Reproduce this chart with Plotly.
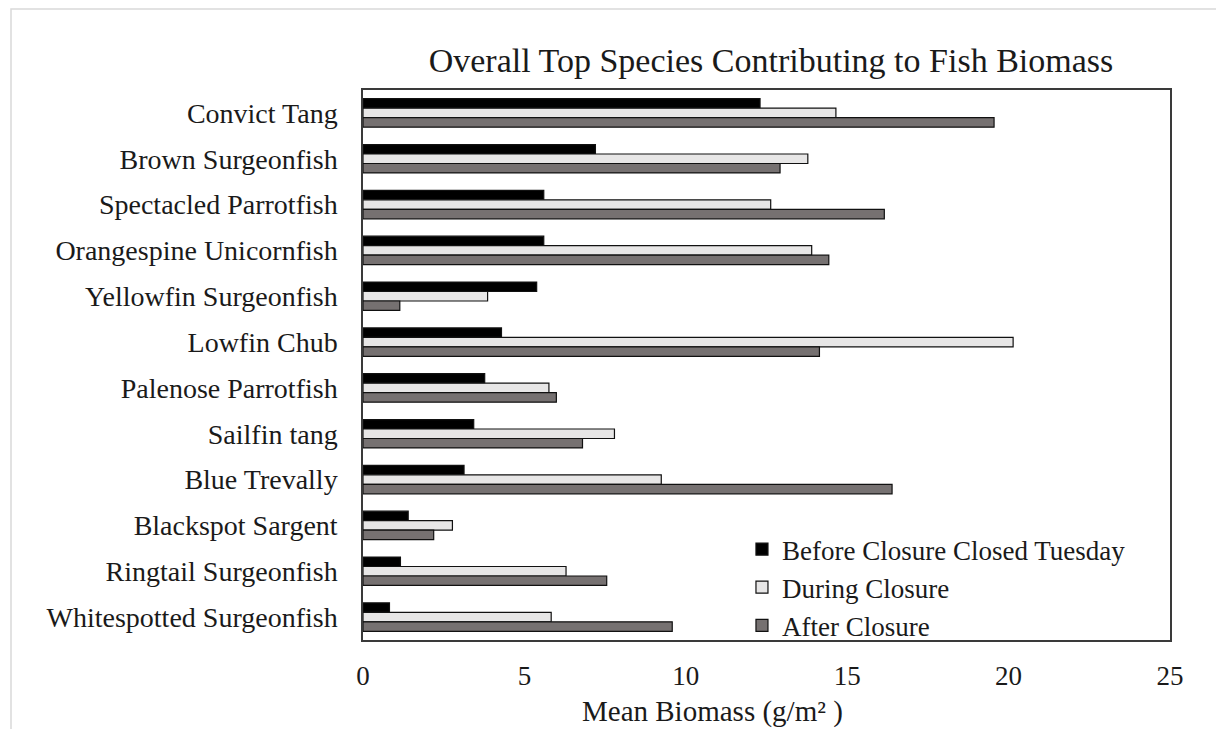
import plotly.graph_objects as go

species = ["Convict Tang", "Brown Surgeonfish", "Spectacled Parrotfish", "Orangespine Unicornfish",
           "Yellowfin Surgeonfish", "Lowfin Chub", "Palenose Parrotfish", "Sailfin tang",
           "Blue Trevally", "Blackspot Sargent", "Ringtail Surgeonfish", "Whitespotted Surgeonfish"]
before = [12.3, 7.2, 5.6, 5.6, 5.38, 4.29, 3.77, 3.43, 3.13, 1.4, 1.16, 0.82]
during = [14.65, 13.78, 12.63, 13.9, 3.86, 20.14, 5.76, 7.79, 9.24, 2.77, 6.29, 5.83]
after = [19.55, 12.92, 16.15, 14.43, 1.14, 14.14, 5.99, 6.8, 16.39, 2.19, 7.55, 9.58]

series_names = ["Before Closure Closed Tuesday", "During Closure", "After Closure"]
series_colors = ["#000000", "#E7E6E6", "#767171"]
x_ticks = [0, 5, 10, 15, 20, 25]

FONT = "Liberation Serif, Times New Roman, serif"
TXT = "#1a1a1a"

W, H = 1216, 721
L, T, R_EDGE, B_EDGE = 355, 82, 1162, 632
PW, PH = R_EDGE - L, B_EDGE - T

fig = go.Figure()
for name, vals, col in zip(series_names, [before, during, after], series_colors):
    fig.add_trace(go.Bar(
        y=species, x=vals, name=name, orientation="h",
        marker=dict(color=col, line=dict(color="#111111", width=1.2)),
    ))

fig.update_layout(
    width=W, height=H,
    margin=dict(l=L, r=W - R_EDGE, t=T, b=H - B_EDGE),
    paper_bgcolor="white", plot_bgcolor="white",
    barmode="group", bargap=0.38, bargroupgap=0,
    font=dict(family=FONT, size=28, color=TXT),
    title=dict(text="Overall Top Species Contributing to Fish Biomass",
               x=763 / W, xanchor="center",
               y=1 - 52 / H, yanchor="middle",
               font=dict(family=FONT, size=34, color=TXT)),
    legend=dict(x=0.4696, xanchor="left", y=0.209, yanchor="top",
                bgcolor="rgba(0,0,0,0)", borderwidth=0, traceorder="normal",
                font=dict(family=FONT, size=27, color=TXT)),
    showlegend=True,
)
fig.update_xaxes(range=[0, 25], tickvals=x_ticks, showgrid=False, zeroline=False,
                 showline=True, mirror=True, linecolor="#3a3a3a", linewidth=1.5,
                 ticks="", ticklabelstandoff=11,
                 tickfont=dict(family=FONT, size=27, color=TXT))
fig.update_yaxes(autorange="reversed", showgrid=False, zeroline=False,
                 showline=True, mirror=True, linecolor="#3a3a3a", linewidth=1.5,
                 ticks="", ticklabelstandoff=18,
                 tickfont=dict(family=FONT, size=28, color=TXT))

fig.add_annotation(text="Mean Biomass (g/m² )", xref="paper", yref="paper",
                   x=(704 - L) / PW, y=-(703 - B_EDGE) / PH, xanchor="center", yanchor="middle",
                   showarrow=False, font=dict(family=FONT, size=29, color=TXT))

fig.add_shape(type="rect", xref="paper", yref="paper",
              x0=(3 - L) / PW, x1=1.3, y0=-0.5, y1=1 + (T - 1) / PH,
              line=dict(color="#d9d9d9", width=1.5), fillcolor="rgba(0,0,0,0)", layer="below")

fig.write_html("out.html")
